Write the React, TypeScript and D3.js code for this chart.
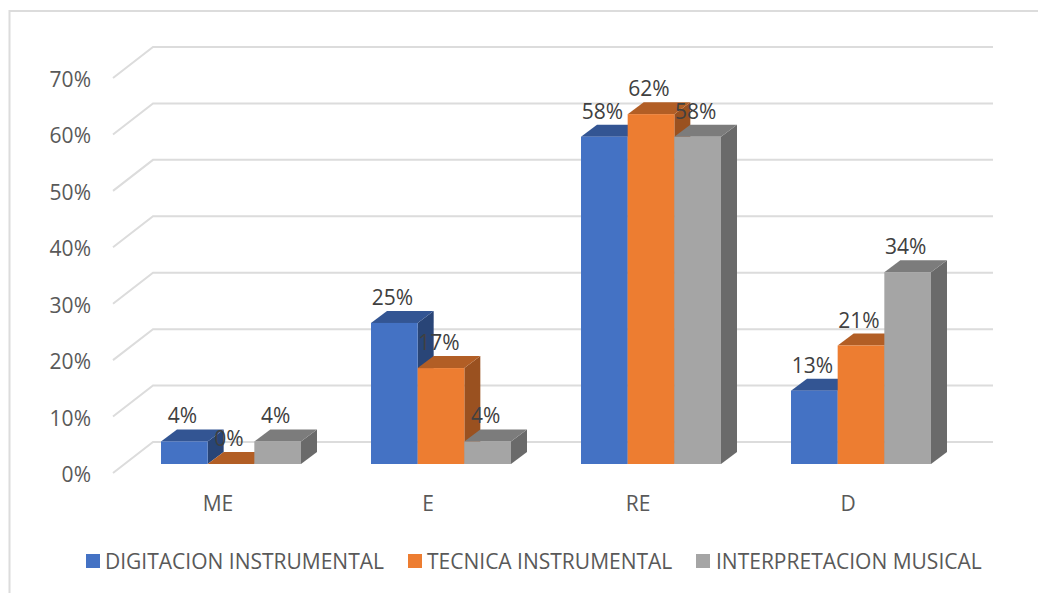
import React from "react";
import * as d3 from "d3";

const categories = ["ME", "E", "RE", "D"];
const seriesNames = ["DIGITACION INSTRUMENTAL", "TECNICA INSTRUMENTAL", "INTERPRETACION MUSICAL"];
const digitacion = [4, 25, 58, 13];
const tecnica = [0, 17, 62, 21];
const interpretacion = [4, 4, 58, 34];
const seriesValues = [digitacion, tecnica, interpretacion];
const yTicks = [0, 10, 20, 30, 40, 50, 60, 70];
const frontColors = ["#4472c4", "#ed7d31", "#a5a5a5"];
const topColors = ["#335593", "#b25e25", "#7c7c7c"];
const sideColors = ["#294577", "#9a5120", "#6a6a6a"];
const legendSwatchX = [86, 408, 696];
const legendTextX = [105, 427, 716];

const FONT = "'Open Sans', 'Noto Sans', sans-serif";

export default function App() {
  const y = d3.scaleLinear().domain([0, 70]).range([473, 78]);
  const x0 = d3.scaleBand<string>().domain(categories).range([113, 953]);
  const x1 = d3.scaleBand<string>().domain(seriesNames).range([35, 175]);
  const floorDx = 40, floorDy = -31;
  const barOffX = 13, barOffY = -9;
  const depthX = 16, depthY = -12;
  const bw = x1.bandwidth();

  return (
    <svg width={1038} height={593} style={{ position: "absolute", left: 0, top: 0, fontFamily: FONT }}>
      <rect x={0} y={0} width={1038} height={593} fill="#fff" />
      <path d="M9.5,593V11H1038" fill="none" stroke="#dcdcdc" strokeWidth={2} />
      {yTicks.map((t) => (
        <g key={t}>
          <path
            d={`M113,${y(t)}L${113 + floorDx},${y(t) + floorDy}H${953 + floorDx}`}
            fill="none"
            stroke="#dcdcdc"
            strokeWidth={2}
          />
          <text x={91} y={y(t) + 9} textAnchor="end" fontSize={21} fill="#595959">
            {t}%
          </text>
        </g>
      ))}
      {categories.map((c) => (
        <text key={c} x={(x0(c) as number) + x0.bandwidth() / 2} y={511} textAnchor="middle" fontSize={21} fill="#595959">
          {c}
        </text>
      ))}
      {seriesNames.map((s, si) =>
        categories.map((c, ci) => {
          const v = seriesValues[si][ci];
          const left = (x0(c) as number) + (x1(s) as number) + barOffX;
          const right = left + bw;
          const top = y(v) + barOffY;
          const bottom = y(0) + barOffY;
          return (
            <g key={c + s}>
              <path
                d={`M${right},${top}L${right + depthX},${top + depthY}V${bottom + depthY}L${right},${bottom}Z`}
                fill={sideColors[si]}
              />
              <path
                d={`M${left},${top}L${left + depthX},${top + depthY}H${right + depthX}L${right},${top}Z`}
                fill={topColors[si]}
              />
              <rect x={left} y={top} width={bw} height={bottom - top} fill={frontColors[si]} />
            </g>
          );
        })
      )}
      {seriesNames.map((s, si) =>
        categories.map((c, ci) => {
          const v = seriesValues[si][ci];
          const left = (x0(c) as number) + (x1(s) as number) + barOffX;
          return (
            <text
              key={c + s}
              x={left + bw / 2 - 2}
              y={y(v) + barOffY - 18}
              textAnchor="middle"
              fontSize={21}
              fill="#404040"
            >
              {v}%
            </text>
          );
        })
      )}
      {seriesNames.map((s, i) => (
        <g key={s}>
          <rect x={legendSwatchX[i]} y={554} width={14} height={14} fill={frontColors[i]} />
          <text x={legendTextX[i]} y={569} fontSize={21} fill="#595959">
            {s}
          </text>
        </g>
      ))}
    </svg>
  );
}
